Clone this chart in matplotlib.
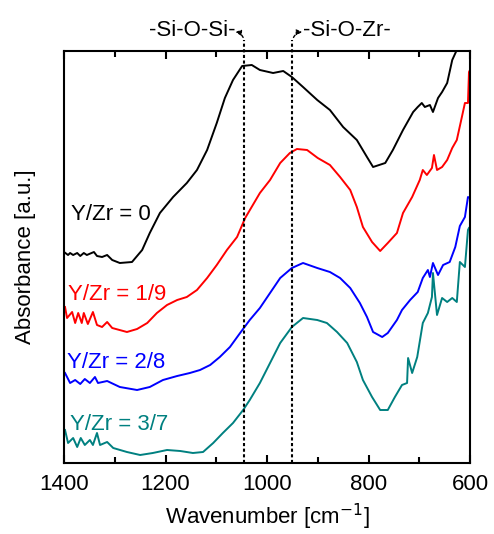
import matplotlib
matplotlib.use("Agg")
import matplotlib.pyplot as plt
from matplotlib.patches import FancyArrowPatch
from matplotlib.ticker import MultipleLocator

plt.rcParams['font.family'] = ['Liberation Sans', 'DejaVu Sans']

# ---- data (absorbance, arbitrary units) ----
wn_0 = [1400, 1392, 1388, 1382, 1374, 1368, 1361, 1355, 1341, 1335, 1325, 1315, 1305, 1290,
        1266, 1246, 1231, 1211, 1185, 1158, 1138, 1118, 1099, 1083, 1067, 1049, 1030, 1014,
        988, 968, 951, 929, 901, 876, 850, 823, 803, 791, 767, 752, 732, 712, 703, 695, 689,
        679, 673, 663, 655, 645, 635, 626, 616, 600]
abs_0 = [211, 208, 210, 208, 210, 207, 210, 208, 211, 207, 206, 208, 203, 200,
         201, 213, 230, 250, 266, 280, 293, 313, 340, 365, 383, 397, 398, 393,
         390, 392, 386, 376, 363, 353, 336, 323, 306, 296, 300, 313, 333, 351, 356, 360, 356,
         358, 351, 365, 371, 380, 403, 413, 440, 480]

wn_1 = [1398, 1394, 1384, 1378, 1372, 1365, 1361, 1353, 1343, 1335, 1325, 1315, 1305, 1276,
        1256, 1236, 1217, 1197, 1177, 1158, 1138, 1118, 1099, 1079, 1059, 1043, 1014, 994,
        974, 955, 941, 921, 900, 876, 856, 836, 823, 811, 793, 777, 762, 744, 732, 714, 699,
        693, 685, 675, 671, 665, 655, 645, 635, 626, 616, 610, 604, 602, 600]
abs_1 = [156, 145, 151, 140, 150, 140, 150, 139, 151, 138, 136, 141, 135, 131,
         134, 140, 150, 158, 163, 166, 173, 185, 198, 213, 226, 245, 270, 283,
         300, 310, 314, 313, 305, 298, 286, 273, 256, 236, 221, 212, 220, 230, 250, 266, 283,
         293, 288, 295, 308, 293, 296, 303, 315, 323, 346, 360, 360, 391, 393]

wn_2 = [1398, 1388, 1378, 1368, 1359, 1349, 1339, 1333, 1315, 1290, 1256, 1231, 1205, 1177,
        1152, 1132, 1112, 1093, 1073, 1053, 1034, 1014, 994, 974, 951, 929, 901, 876, 856,
        836, 817, 803, 791, 773, 762, 744, 734, 718, 703, 693, 683, 679, 673, 663, 653, 640,
        629, 620, 610, 604, 600]
abs_2 = [90, 80, 83, 79, 84, 80, 86, 80, 82, 76, 73, 76, 83, 87,
         90, 93, 98, 106, 116, 130, 143, 155, 170, 185, 195, 200, 195, 191, 185,
         175, 160, 146, 131, 126, 130, 143, 153, 163, 171, 185, 193, 186, 200, 188, 198, 201,
         216, 237, 246, 266, 265]

wn_3 = [1398, 1392, 1382, 1374, 1367, 1359, 1349, 1343, 1335, 1329, 1315, 1303, 1276, 1250,
        1225, 1197, 1171, 1146, 1126, 1106, 1087, 1067, 1047, 1034, 1014, 994, 974, 951, 929,
        901, 882, 862, 842, 823, 811, 793, 777, 762, 748, 734, 724, 722, 714, 704, 693, 683,
        675, 673, 665, 655, 645, 635, 626, 620, 610, 604, 602]
abs_3 = [33, 20, 25, 16, 25, 18, 23, 18, 30, 18, 21, 15, 11, 8,
         10, 13, 12, 10, 11, 20, 30, 40, 53, 63, 80, 100, 120, 136, 145,
         143, 140, 131, 120, 101, 83, 66, 53, 53, 66, 78, 80, 105, 90, 106, 140, 150,
         166, 190, 148, 165, 161, 165, 161, 201, 196, 233, 235]

series = [(wn_0, abs_0, 'black', 'Y/Zr = 0'),
          (wn_1, abs_1, '#ff0000', 'Y/Zr = 1/9'),
          (wn_2, abs_2, '#0000ff', 'Y/Zr = 2/8'),
          (wn_3, abs_3, '#008080', 'Y/Zr = 3/7')]
label_pos = [(1386, 248), (1392, 169), (1394, 100), (1388, 38)]

marker_lines = [1045, 950]
marker_texts = ['-Si-O-Si-', '-Si-O-Zr-']

FS = 16

# ---- figure ----
fig = plt.figure(figsize=(4.94, 5.34), dpi=100)
ax = fig.add_axes([64 / 494, 1 - 463 / 534, 406 / 494, 412 / 534])

for (x, y, c, lab), (lx, ly) in zip(series, label_pos):
    ax.plot(x, y, color=c, lw=1.4)
    ax.text(lx, ly, lab, color=c, fontsize=FS, ha='left', va='center')

ax.set_xlim(1400, 600)
ax.set_ylim(0, 412)

ytop = 423
for xv in marker_lines:
    ax.plot([xv, xv], [0, ytop], color='black', lw=1.5, ls=(0, (1.5, 1.2)), clip_on=False)

arr1 = FancyArrowPatch((marker_lines[0], ytop), (1068, 431), transform=ax.transData,
                       arrowstyle='-|>', mutation_scale=8, color='black', lw=1.0,
                       ls=(0, (2, 1.5)), connectionstyle='arc3,rad=0.4', clip_on=False)
arr2 = FancyArrowPatch((marker_lines[1], ytop), (925, 431), transform=ax.transData,
                       arrowstyle='-|>', mutation_scale=8, color='black', lw=1.0,
                       ls=(0, (2, 1.5)), connectionstyle='arc3,rad=-0.4', clip_on=False)
ax.add_patch(arr1)
ax.add_patch(arr2)
ax.text(1148, 433, marker_texts[0], fontsize=FS, ha='center', va='center', clip_on=False)
ax.text(842, 433, marker_texts[1], fontsize=FS, ha='center', va='center', clip_on=False)

ax.xaxis.set_major_locator(MultipleLocator(200))
ax.xaxis.set_minor_locator(MultipleLocator(100))
ax.tick_params(axis='x', which='both', direction='in', top=True, labelsize=FS, pad=8)
ax.tick_params(axis='x', which='major', length=6, width=1.5)
ax.tick_params(axis='x', which='minor', length=4, width=1.5)
ax.set_yticks([])
for s in ax.spines.values():
    s.set_linewidth(1.5)

ax.set_xlabel('Wavenumber [cm$^{-1}$]', fontsize=FS, labelpad=5)
ax.set_ylabel('Absorbance [a.u.]', fontsize=FS, labelpad=20)

fig.savefig('out.png', dpi=100)
